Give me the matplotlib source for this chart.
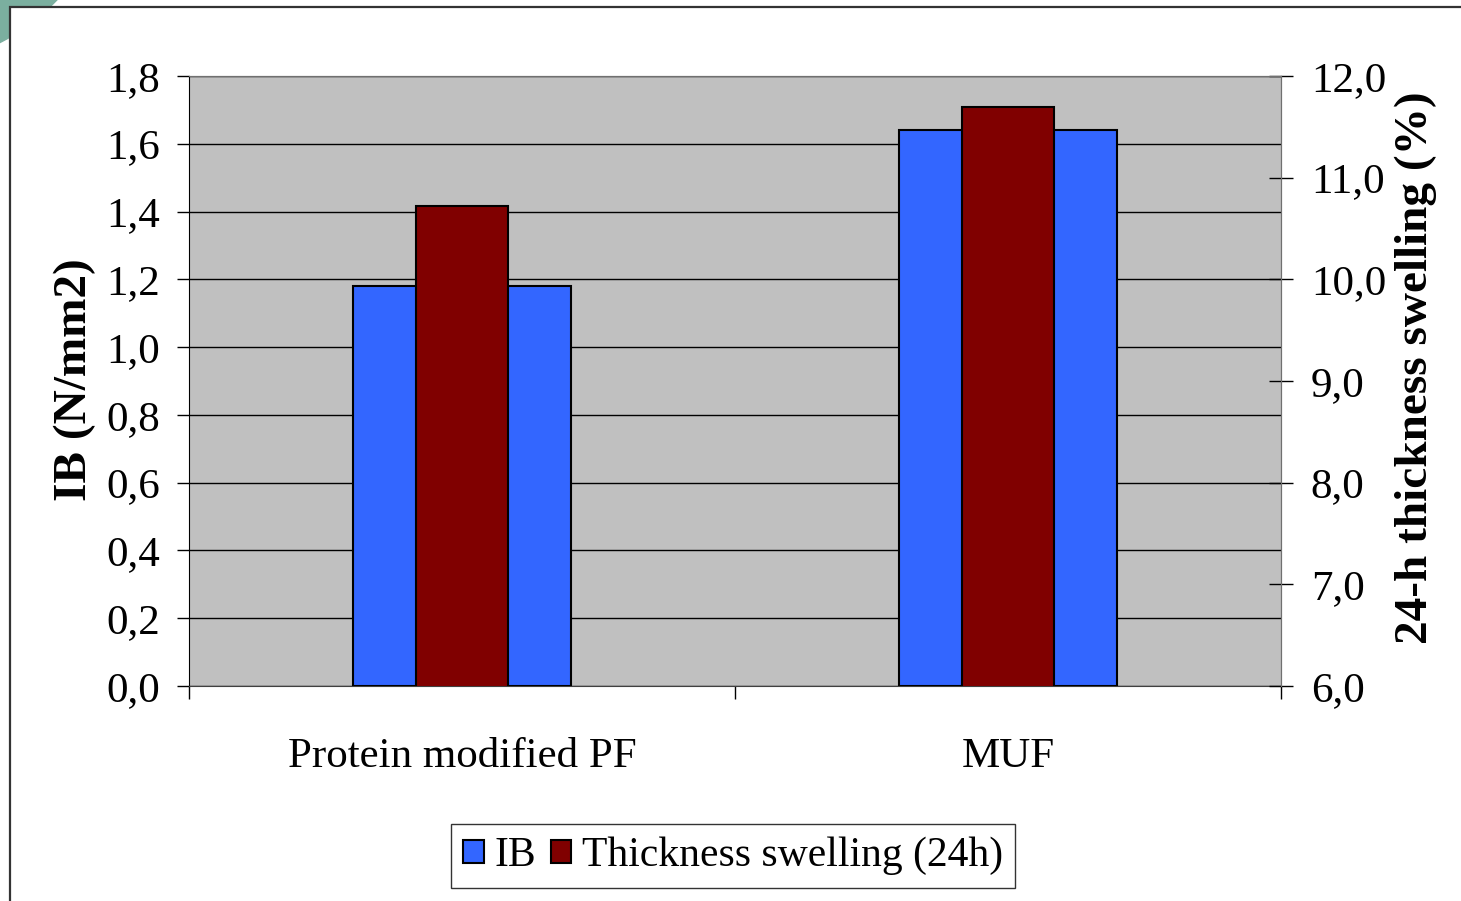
import matplotlib
matplotlib.use("Agg")
import matplotlib.pyplot as plt
from matplotlib.patches import Ellipse, Rectangle, Patch
import numpy as np

categories = ["Protein modified PF", "MUF"]
ib_values = [1.18, 1.64]
swelling_values = [10.72, 11.70]
left_ticks = [0.0, 0.2, 0.4, 0.6, 0.8, 1.0, 1.2, 1.4, 1.6, 1.8]
right_ticks = [6.0, 7.0, 8.0, 9.0, 10.0, 11.0, 12.0]

W, H = 1461, 901
plt.rcParams['font.family'] = ['Liberation Serif', 'DejaVu Serif']

fig = plt.figure(figsize=(W / 100, H / 100), dpi=100)

# slide decoration: teal corner + framed white panel
fig.add_artist(Ellipse((-100 / W, 1 + 150 / H), 2 * 217 / W, 2 * 217 / H,
                       transform=fig.transFigure, color='#7BAF9F', zorder=-2))
fig.add_artist(Rectangle((10 / W, -0.1), 1.2, 1 - 7 / H + 0.1,
                         transform=fig.transFigure, facecolor='white',
                         edgecolor='#333333', linewidth=1.6, zorder=-1))

ax = fig.add_axes([189 / W, 1 - 686 / H, (1281 - 189) / W, (686 - 76) / H])
ax2 = ax.twinx()

x = np.arange(len(categories))
ax.set_facecolor('#C0C0C0')
ax.bar(x, ib_values, width=0.4, color='#3366FF', edgecolor='black',
       linewidth=1.5, zorder=3)
ax2.bar(x, swelling_values, width=0.168, color='#800000', edgecolor='black',
        linewidth=1.5, zorder=3)

ax.set_xlim(-0.5, 1.5)
ax.set_ylim(0, 1.8)
ax2.set_ylim(6, 12)

ax.set_yticks(left_ticks)
ax.set_yticklabels([f"{v:.1f}".replace('.', ',') for v in left_ticks])
ax2.set_yticks(right_ticks)
ax2.set_yticklabels([f"{v:.1f}".replace('.', ',') for v in right_ticks])
ax.yaxis.grid(True, color='black', linewidth=1.0, zorder=1)
ax.set_axisbelow(True)

ax.set_xticks(x)
ax.set_xticklabels(categories)
ax.set_xticks([-0.5, 0.5, 1.5], minor=True)
ax.tick_params(axis='x', which='major', length=0, pad=37, labelsize=31)
ax.tick_params(axis='x', which='minor', length=9, width=1, color='black')
ax.tick_params(axis='y', length=9, width=1, pad=12, labelsize=31)
ax2.tick_params(axis='y', direction='inout', length=17, width=1, pad=13,
                labelsize=31)

for sp in ['top', 'right']:
    ax.spines[sp].set_color('#707070')
    ax2.spines[sp].set_color('#707070')
ax.spines['left'].set_color('black')
ax.spines['bottom'].set_color('#404040')
ax2.spines['left'].set_visible(False)
ax2.spines['bottom'].set_visible(False)

ax.set_ylabel("IB (N/mm2)", fontsize=34, fontweight='bold', va='center')
ax2.set_ylabel("24-h thickness swelling (%)", fontsize=34, fontweight='bold',
               va='center')
ax.yaxis.set_label_coords((75 - 189) / 1092, (686 - 380) / 610)
ax2.yaxis.set_label_coords((1416 - 189) / 1092, (686 - 368) / 610)

handles = [Patch(facecolor='#3366FF', edgecolor='black', linewidth=1.5),
           Patch(facecolor='#800000', edgecolor='black', linewidth=1.5)]
leg = fig.legend(handles, ["IB", "Thickness swelling (24h)"], loc='center',
                 bbox_to_anchor=(733 / W, 1 - 856 / H), ncol=2, fontsize=30,
                 frameon=True, fancybox=False, handlelength=0.5,
                 handleheight=0.5, handletextpad=0.25, columnspacing=0.35,
                 borderpad=0.3, borderaxespad=0)
leg.get_frame().set_edgecolor('black')
leg.get_frame().set_linewidth(1.0)

fig.savefig("out.png", dpi=100)
